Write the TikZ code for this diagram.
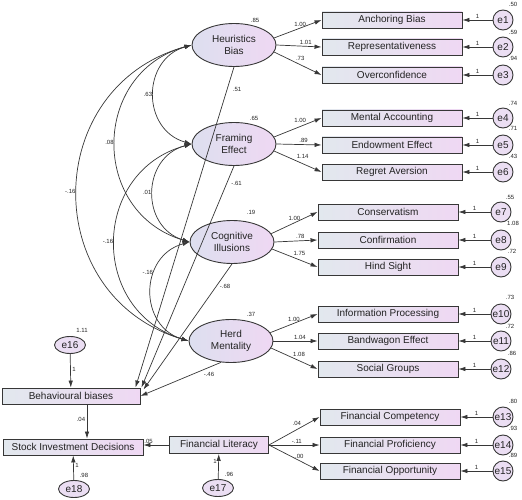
\documentclass[tikz,border=0pt]{standalone}
\usepackage{fontspec}
\setmainfont{Liberation Sans}
\usepackage{tikz}
\usetikzlibrary{arrows.meta,positioning,shapes}
\definecolor{lineC}{RGB}{55,55,55}
\definecolor{txtC}{RGB}{35,35,35}
\definecolor{boxL}{RGB}{226,232,238}
\definecolor{boxR}{RGB}{239,216,243}
\definecolor{latL}{RGB}{221,223,239}
\definecolor{latR}{RGB}{239,216,243}
\definecolor{errF}{RGB}{235,222,243}

\begin{document}
\begin{tikzpicture}[x=1pt,y=-1pt,line width=.7pt,
lat node/.style={ellipse,draw=lineC,line width=.9pt,minimum width=84pt,minimum height=43pt,inner sep=0pt,align=center,left color=latL,right color=latR,text=txtC},
obs node/.style={rectangle,draw=lineC,line width=.9pt,minimum width=140pt,minimum height=16pt,inner sep=0pt,left color=boxL,right color=boxR,text=txtC},
err node/.style={circle,draw=lineC,line width=.9pt,minimum size=20pt,inner sep=0pt,fill=errF,text=txtC},
res node/.style={ellipse,draw=lineC,line width=.9pt,minimum width=31pt,minimum height=17pt,inner sep=0pt,fill=errF,text=txtC},
num/.style={font=\fontsize{6}{7}\selectfont,text=txtC,inner sep=1.5pt},
reg/.style={color=lineC,-{Latex[length=7pt,width=4.5pt]}},
cov/.style={color=lineC,{Latex[length=7pt,width=4.5pt]}-{Latex[length=7pt,width=4.5pt]},bend right=74,looseness=1.35}]
\useasboundingbox (0,0) rectangle (522,500);
\begin{scope}
\node[lat node] (hb) at (234,45) {Heuristics\\Bias};
\node[lat node] (fe) at (234,144) {Framing\\Effect};
\node[lat node] (ci) at (232,242) {Cognitive\\Illusions};
\node[lat node] (hm) at (231,341) {Herd\\Mentality};
\node[obs node] (anc) at (392,20) {Anchoring Bias};
\node[obs node] (rep) at (392,47) {Representativeness};
\node[obs node] (ovc) at (392,75) {Overconfidence};
\node[obs node] (mac) at (392,118) {Mental Accounting};
\node[obs node] (end) at (392,145) {Endowment Effect};
\node[obs node] (rav) at (392,172) {Regret Aversion};
\node[obs node] (con) at (388,212) {Conservatism};
\node[obs node] (cnf) at (388,240) {Confirmation};
\node[obs node] (hin) at (388,267) {Hind Sight};
\node[obs node] (inf) at (388,314) {Information Processing};
\node[obs node] (bwg) at (388,341) {Bandwagon Effect};
\node[obs node] (soc) at (388,369) {Social Groups};
\node[obs node] (fco) at (390,417) {Financial Competency};
\node[obs node] (fpr) at (390,445) {Financial Proficiency};
\node[obs node] (fop) at (390,471) {Financial Opportunity};
\node[obs node,minimum width=138pt] (bb) at (71,396) {Behavioural biases};
\node[obs node] (sid) at (73,447) {Stock Investment Decisions};
\node[obs node,minimum width=99pt,minimum height=17pt] (fl) at (219,445) {Financial Literacy};
\end{scope}
\begin{scope}
\node[err node] (e1) at (503,20) {e1};
\node[err node] (e2) at (503,47) {e2};
\node[err node] (e3) at (503,75) {e3};
\node[err node] (e4) at (503,118) {e4};
\node[err node] (e5) at (503,145) {e5};
\node[err node] (e6) at (503,172) {e6};
\node[err node] (e7) at (501,212) {e7};
\node[err node] (e8) at (501,240) {e8};
\node[err node] (e9) at (501,267) {e9};
\node[err node] (e10) at (501,314) {e10};
\node[err node] (e11) at (501,341) {e11};
\node[err node] (e12) at (501,369) {e12};
\node[err node] (e13) at (503,417) {e13};
\node[err node] (e14) at (503,445) {e14};
\node[err node] (e15) at (503,471) {e15};
\node[res node] (e16) at (70,345) {e16};
\node[res node] (e17) at (218,488) {e17};
\node[res node] (e18) at (74,489) {e18};
\end{scope}
\begin{scope}[every node/.style={num}]
\node (vhb) at (255,20) {.85};
\node (vfe) at (254,118) {.65};
\node (vci) at (251,212) {.19};
\node (vhm) at (251,314) {.37};
\node (ve1) at (513,4) {.50};
\node (ve2) at (513,32) {.59};
\node (ve3) at (513,58) {.94};
\node (ve4) at (513,103) {.74};
\node (ve5) at (513,128) {.71};
\node (ve6) at (513,156) {.43};
\node (ve7) at (510,197) {.55};
\node (ve8) at (513,223) {1.08};
\node (ve9) at (512,251) {.72};
\node (ve10) at (510,297) {.73};
\node (ve11) at (510,326) {.72};
\node (ve12) at (512,353) {.86};
\node (ve13) at (513,401) {.80};
\node (ve14) at (513,428) {.93};
\node (ve15) at (513,455) {.89};
\node (ve16) at (82,330) {1.11};
\node (ve17) at (229,474) {.96};
\node (ve18) at (84,475) {.98};
\end{scope}
\begin{scope}
\path[reg] (hb.10) edge node[num,above,pos=.55]{1.00} (anc.west);
\path[reg] (hb.east) edge node[num,above,pos=.65]{1.01} (rep.west);
\path[reg] (hb.-10) edge node[num,above=2pt,pos=.55]{.73} (ovc.west);
\path[reg] (fe.10) edge node[num,above=2pt,pos=.55]{1.00} (mac.west);
\path[reg] (fe.east) edge node[num,above,pos=.6]{.89} (end.west);
\path[reg] (fe.-10) edge node[num,above=3pt,pos=.6]{1.14} (rav.west);
\path[reg] (ci.12) edge node[num,above,pos=.5]{1.00} (con.west);
\path[reg] (ci.east) edge node[num,above,pos=.6]{.78} (cnf.west);
\path[reg] (ci.-10) edge node[num,above=2pt,pos=.6]{1.75} (hin.west);
\path[reg] (hm.12) edge node[num,above,pos=.5]{1.00} (inf.west);
\path[reg] (hm.east) edge node[num,above,pos=.6]{1.04} (bwg.west);
\path[reg] (hm.-10) edge node[num,above=2pt,pos=.6]{1.08} (soc.west);
\path[reg] (fl.east) edge node[num,above=2pt,pos=.55]{.04} (fco.west);
\path[reg] (fl.east) edge node[num,above,pos=.55]{-.11} (fpr.west);
\path[reg] (fl.east) edge node[num,above,pos=.6]{.00} (fop.west);
\end{scope}
\begin{scope}
\path[reg] (e1) edge node[num,above]{1} (anc);
\path[reg] (e2) edge node[num,above]{1} (rep);
\path[reg] (e3) edge node[num,above]{1} (ovc);
\path[reg] (e4) edge node[num,above]{1} (mac);
\path[reg] (e5) edge node[num,above]{1} (end);
\path[reg] (e6) edge node[num,above]{1} (rav);
\path[reg] (e7) edge node[num,above]{1} (con);
\path[reg] (e8) edge node[num,above]{1} (cnf);
\path[reg] (e9) edge node[num,above]{1} (hin);
\path[reg] (e10) edge node[num,above]{1} (inf);
\path[reg] (e11) edge node[num,above]{1} (bwg);
\path[reg] (e12) edge node[num,above]{1} (soc);
\path[reg] (e13) edge node[num,above]{1} (fco);
\path[reg] (e14) edge node[num,above]{1} (fpr);
\path[reg] (e15) edge node[num,above]{1} (fop);
\path[reg] (e16) edge node[num,right,pos=.45]{1} (bb);
\path[reg] (e17) edge node[num,left,pos=.69]{1} (fl);
\path[reg] (e18) edge node[num,right,pos=.58]{1} (sid);
\end{scope}
\begin{scope}
\path[reg] (hb.south) edge node[num,right=4pt,pos=.07]{.51} ([xshift=-5pt]bb.north east);
\path[reg] (fe.south) edge node[num,right=3pt,pos=.08]{-.61} ([xshift=1pt]bb.north east);
\path[reg] (ci.south) edge node[num,right=2pt,pos=.18]{-.68} ([xshift=3pt,yshift=-2pt]bb.north east);
\path[reg] (hm.245) edge node[num,below=3pt,pos=.15]{-.46} (bb.east);
\path[reg] ([xshift=16pt]bb.south) edge node[num,left,pos=.45]{.04} ([xshift=14pt]sid.north);
\path[reg] (fl.west) edge node[num,above,pos=.8]{.05} (sid.east |- fl.west);
\end{scope}
\begin{scope}
\path[cov] (hb.west) edge node[num,left]{.63} (fe.west);
\path[cov] (hb.west) edge node[num,left]{.08} (ci.west);
\path[cov] (hb.west) edge node[num,left]{-.16} (hm.west);
\path[cov] (fe.west) edge node[num,left]{.01} (ci.west);
\path[cov] (fe.west) edge node[num,left]{-.16} (hm.west);
\path[cov] (ci.west) edge node[num,left,pos=.35]{-.16} (hm.west);
\end{scope}
\end{tikzpicture}
\end{document}
